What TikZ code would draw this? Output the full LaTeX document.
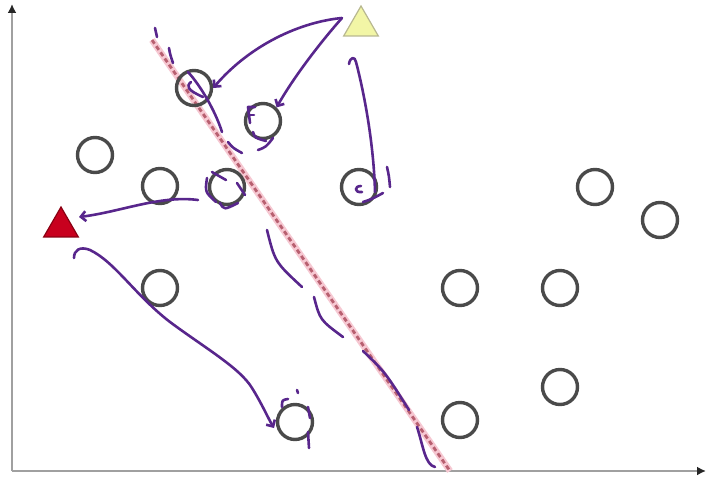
\documentclass[tikz,border=0pt]{standalone}
\usetikzlibrary{arrows.meta,shapes.geometric}
\definecolor{ringgray}{HTML}{4A4A4A}
\definecolor{axisgray}{HTML}{A0A0A0}
\definecolor{purp}{RGB}{88,38,140}
\definecolor{yelfill}{HTML}{F2F6A6}
\definecolor{yeldraw}{HTML}{B8B890}
\definecolor{redfill}{HTML}{C8001E}
\definecolor{reddraw}{HTML}{8A0012}
\definecolor{sepred}{HTML}{B86070}
\definecolor{seppink}{HTML}{F6C8D2}
\tikzset{
  ring/.style={circle,draw=ringgray,line width=3.4pt,minimum size=35pt,inner sep=0pt},
  tri/.style={regular polygon,regular polygon sides=3,minimum size=40pt,inner sep=0pt,line width=1.2pt},
  axisline/.style={draw=axisgray,line width=2.5pt,-{Latex[length=9pt,width=9pt,color=black!85]}},
  pen/.style={draw=purp,line width=2.6pt,line cap=round,line join=round},
  parrow/.style={pen,-{Straight Barb[length=5pt,width=10pt]}}
}
\begin{document}
\begin{tikzpicture}[x=1pt,y=-1pt]
\useasboundingbox (0,0) rectangle (707,481);
% axes
\coordinate (o) at (12,471);
\coordinate (ytop) at (12,4);
\coordinate (xend) at (706,471);
\draw[axisline] (o) -- (ytop);
\draw[axisline] (o) -- (xend);
% separating line
\coordinate (s1) at (152,40);
\coordinate (s2) at (450,471);
\draw[seppink,line width=6.5pt] (s1) -- (s2);
\draw[sepred,line width=2.8pt,dash pattern=on 4.5pt off 3pt] (s1) -- (s2);
% circles
\node[ring] (c1) at (95,155) {};
\node[ring] (c2) at (194,88) {};
\node[ring] (c3) at (263,121) {};
\node[ring] (c4) at (160,186) {};
\node[ring] (c5) at (227,187) {};
\node[ring] (c6) at (359,187) {};
\node[ring] (c7) at (595,187) {};
\node[ring] (c8) at (660,220) {};
\node[ring] (c9) at (160,288) {};
\node[ring] (c10) at (460,288) {};
\node[ring] (c11) at (560,288) {};
\node[ring] (c12) at (560,387) {};
\node[ring] (c13) at (295,422) {};
\node[ring] (c14) at (460,420) {};
% triangles
\node[tri,fill=yelfill,draw=yeldraw] (ty) at (361,26) {};
\node[tri,fill=redfill,draw=reddraw] (tr) at (61,227) {};
% annotations: arrows
\coordinate (tip) at (342,18);
\draw[parrow] (tip) .. controls (300,22) and (250,45) .. (c2.east);
\draw[parrow] (tip) .. controls (318,45) and (292,80) .. (c3.north east);
\coordinate (h3) at (349,64);
\draw[pen] (h3) .. controls (350,57) and (355,56) .. (356,62)
  .. controls (366,100) and (374,150) .. (375,192);
\coordinate (s4) at (198,200);
\coordinate (e4) at (79,217);
\draw[parrow] (s4) .. controls (160,195) and (120,212) .. (e4);
\coordinate (s5) at (74,258);
\coordinate (e5) at (274,428);
\draw[parrow] (s5) .. controls (74,250) and (80,246) .. (90,250)
  .. controls (115,262) and (135,295) .. (170,322)
  .. controls (205,348) and (240,368) .. (252,388)
  .. controls (262,404) and (268,418) .. (e5);
% marks around c5
\draw[pen] (212,172) -- (226,180);
\draw[pen] (207,178) .. controls (205,192) .. (216,202);
\draw[pen] (237,183) -- (245,195);
\draw[pen] (220,203) .. controls (224,210) .. (238,203);
% marks around c3
\draw[pen] (255,107) -- (248,107) -- (250,123);
\draw[pen] (250,115) -- (254,115);
\draw[pen] (253,132) .. controls (255,138) .. (266,141);
\draw[pen] (258,150) .. controls (266,147) .. (273,138);
% marks around c6
\draw[pen] (361,186) .. controls (354,186) and (354,193) .. (362,192);
\draw[pen] (363,202) .. controls (372,199) .. (383,193);
\draw[pen] (387,167) .. controls (389,176) .. (390,187);
% marks around c13
\draw[pen] (282,407) .. controls (282,400) .. (288,399);
\draw[pen] (297,390) -- (298,393);
\draw[pen] (308,407) -- (310,418);
\draw[pen] (308,432) -- (309,448);
% marks in c2
\draw[pen] (191,82) .. controls (186,86) and (187,90) .. (203,97);
% dashed hand-drawn line beside the separator
\draw[pen] (155,28) -- (157,37);
\draw[pen] (169,48) .. controls (170,54) .. (173,63);
\draw[pen] (188,72) .. controls (200,85) and (215,110) .. (222,132);
\draw[pen] (228,142) .. controls (233,148) .. (242,153);
\draw[pen] (267,230) .. controls (275,262) .. (302,287);
\draw[pen] (314,297) .. controls (320,320) .. (343,337);
\draw[pen] (363,351) .. controls (385,372) .. (409,410);
\draw[pen] (417,427) .. controls (423,445) and (425,465) .. (435,467);
\end{tikzpicture}
\end{document}
